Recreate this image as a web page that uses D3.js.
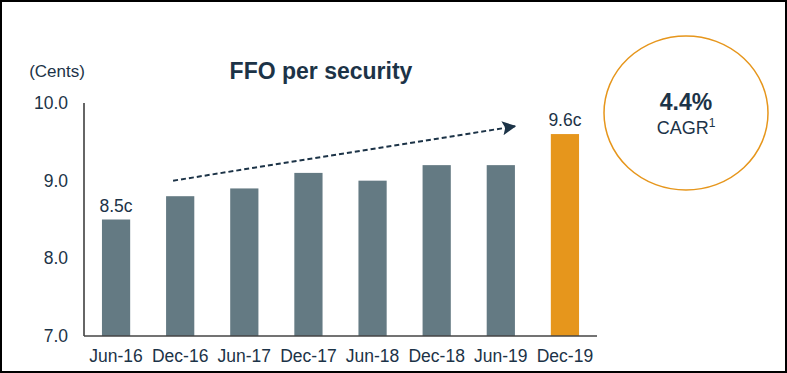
<!DOCTYPE html>
<html>
<head>
<meta charset="utf-8">
<script src="https://cdn.jsdelivr.net/npm/d3@7"></script>
<style>
  html, body { margin: 0; padding: 0; background: #fff; }
  svg text { font-family: "Liberation Sans", Arial, sans-serif; }
</style>
</head>
<body>
<div id="chart"></div>
<script>
// data
var periods = ["Jun-16", "Dec-16", "Jun-17", "Dec-17", "Jun-18", "Dec-18", "Jun-19", "Dec-19"];
var ffo = [8.5, 8.8, 8.9, 9.1, 9.0, 9.2, 9.2, 9.6];
var yTicks = [7, 8, 9, 10];
var labelled = ["Jun-16", "Dec-19"];
var highlight = "Dec-19";
var trendFrom = {period: "Dec-16", value: 9.0};
var trendTo = {period: "Jun-19", value: 9.7};
var cagr = "4.4%";

var W = 787, H = 373;
var navy = "#1c3347", grey = "#647a83", orange = "#e6961c";

var svg = d3.select("#chart")
  .append("svg")
    .attr("width", W)
    .attr("height", H);

// frame
svg.append("rect")
  .attr("x", 1).attr("y", 1)
  .attr("width", W - 2).attr("height", H - 2)
  .attr("fill", "none")
  .attr("stroke", "#000")
  .attr("stroke-width", 2);

var x = d3.scaleBand()
  .domain(periods)
  .range([84, 597])
  .paddingInner(0.56)
  .paddingOuter(0.28);

var y = d3.scaleLinear()
  .domain([7, 10])
  .range([336, 103]);

// y axis labels + line
svg.selectAll(".ytick")
  .data(yTicks)
  .enter()
  .append("text")
    .attr("x", 68)
    .attr("y", function(d) { return y(d); })
    .attr("dy", "0.35em")
    .attr("text-anchor", "end")
    .attr("font-size", 17.5)
    .attr("fill", navy)
    .text(function(d) { return d.toFixed(1); });

svg.append("text")
  .attr("x", 57)
  .attr("y", 77)
  .attr("text-anchor", "middle")
  .attr("font-size", 17)
  .attr("fill", navy)
  .text("(Cents)");

svg.append("text")
  .attr("x", 321)
  .attr("y", 79)
  .attr("text-anchor", "middle")
  .attr("font-size", 23)
  .attr("font-weight", "bold")
  .attr("fill", navy)
  .text("FFO per security");

// bars
svg.selectAll(".bar")
  .data(periods)
  .enter()
  .append("rect")
    .attr("x", function(d) { return x(d); })
    .attr("y", function(d, i) { return y(ffo[i]); })
    .attr("width", x.bandwidth())
    .attr("height", function(d, i) { return y(7) - y(ffo[i]); })
    .attr("fill", function(d) { return d == highlight ? orange : grey; });

// axes lines
svg.append("line")
  .attr("x1", 84).attr("x2", 84)
  .attr("y1", y(10)).attr("y2", y(7))
  .attr("stroke", "#333").attr("stroke-width", 1.5);
svg.append("line")
  .attr("x1", 84).attr("x2", 597)
  .attr("y1", y(7)).attr("y2", y(7))
  .attr("stroke", "#444").attr("stroke-width", 1.5);

// x labels
svg.selectAll(".xlab")
  .data(periods)
  .enter()
  .append("text")
    .attr("x", function(d) { return x(d) + x.bandwidth() / 2; })
    .attr("y", 362)
    .attr("text-anchor", "middle")
    .attr("font-size", 17.5)
    .attr("fill", navy)
    .text(function(d) { return d; });

// value labels
svg.selectAll(".vlab")
  .data(labelled)
  .enter()
  .append("text")
    .attr("x", function(d) { return x(d) + x.bandwidth() / 2; })
    .attr("y", function(d) { return y(ffo[periods.indexOf(d)]) - 8; })
    .attr("text-anchor", "middle")
    .attr("font-size", 17.5)
    .attr("fill", navy)
    .text(function(d) { return ffo[periods.indexOf(d)] + "c"; });

// trend arrow
svg.append("defs").append("marker")
  .attr("id", "head")
  .attr("viewBox", "0 0 10 10")
  .attr("refX", 9).attr("refY", 5)
  .attr("markerWidth", 7).attr("markerHeight", 7)
  .attr("markerUnits", "strokeWidth")
  .attr("orient", "auto")
  .append("path")
    .attr("d", "M0,0 L10,5 L0,10 L2,5 Z")
    .attr("fill", navy);

svg.append("line")
  .attr("x1", x(trendFrom.period) + 7)
  .attr("y1", y(trendFrom.value))
  .attr("x2", x(trendTo.period) + x.bandwidth())
  .attr("y2", y(trendTo.value))
  .attr("stroke", navy)
  .attr("stroke-width", 2)
  .attr("stroke-dasharray", "5,3")
  .attr("marker-end", "url(#head)");

// CAGR bubble
svg.append("ellipse")
  .attr("cx", 686).attr("cy", 113)
  .attr("rx", 82).attr("ry", 77)
  .attr("fill", "none")
  .attr("stroke", orange)
  .attr("stroke-width", 1.5);

svg.append("text")
  .attr("x", 686).attr("y", 110)
  .attr("text-anchor", "middle")
  .attr("font-size", 23)
  .attr("font-weight", "bold")
  .attr("fill", navy)
  .text(cagr);

var cg = svg.append("text")
  .attr("x", 686).attr("y", 134)
  .attr("text-anchor", "middle")
  .attr("font-size", 18)
  .attr("fill", navy)
  .text("CAGR");
cg.append("tspan")
  .attr("font-size", 12)
  .attr("dy", -7)
  .text("1");
</script>
</body>
</html>
